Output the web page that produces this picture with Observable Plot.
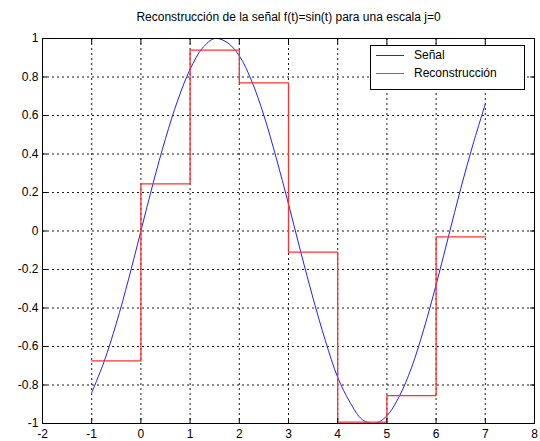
<!DOCTYPE html>
<html><head><meta charset="utf-8">
<script src="https://cdn.jsdelivr.net/npm/d3@7"></script>
<script src="https://cdn.jsdelivr.net/npm/@observablehq/plot@0.6"></script>
<style>
body{margin:0;background:#fff;font-family:"Liberation Sans",Arial,sans-serif;}
#wrap{position:relative;width:540px;height:441px;}
#legend{position:absolute;left:370px;top:45px;width:155px;height:45px;border:1px solid #000;background:#fff;font-size:12px;box-sizing:border-box;}
.li{position:absolute;left:5px;height:0;width:28px;}
.lt{position:absolute;left:43px;line-height:14px;}
</style>
</head><body>
<div id="wrap"></div>
<script>
const title = "Reconstrucción de la señal f(t)=sin(t) para una escala j=0";
const seriesNames = ["Señal", "Reconstrucción"];
const xTicks = [-2, -1, 0, 1, 2, 3, 4, 5, 6, 7, 8];
const yTicks = [-1, -0.8, -0.6, -0.4, -0.2, 0, 0.2, 0.4, 0.6, 0.8, 1];
// Signal samples
const signalT = [-1,-0.75,-0.5,-0.25,0,0.25,0.5,0.75,1,1.25,1.5,1.75,2,2.25,2.5,2.75,3,3.25,3.5,3.75,4,4.25,4.5,4.75,5,5.25,5.5,5.75,6,6.25,6.5,6.75,7];
const signalV = [-0.84,-0.68,-0.48,-0.25,0,0.25,0.48,0.68,0.84,0.95,1.0,0.98,0.91,0.78,0.6,0.38,0.14,-0.11,-0.35,-0.57,-0.76,-0.89,-0.98,-1.0,-0.96,-0.86,-0.71,-0.51,-0.28,-0.03,0.22,0.45,0.66];
// Reconstruction step values on [k, k+1]
const recT = [-1, 0, 1, 2, 3, 4, 5, 6, 7];
const recV = [-0.675, 0.245, 0.94, 0.77, -0.11, -0.993, -0.855, -0.03, -0.03];

const signal = signalT.map((t, i) => ({t, v: signalV[i]}));
const rec = recT.map((t, i) => ({t, v: recV[i]}));
const fmt = d => String(+d.toFixed(1));

const chart = Plot.plot({
  width: 540, height: 441,
  marginTop: 38, marginBottom: 18, marginLeft: 42, marginRight: 6,
  style: {fontFamily: '"Liberation Sans", Arial, sans-serif', fontSize: "12px", color: "#000", background: "#fff"},
  x: {domain: [-2, 8], label: null},
  y: {domain: [-1, 1], label: null},
  marks: [
    Plot.gridX(xTicks, {stroke: "#000", strokeOpacity: 0.9, strokeDasharray: "2,3"}),
    Plot.gridY(yTicks, {stroke: "#000", strokeOpacity: 0.9, strokeDasharray: "2,3"}),
    Plot.line(signal, {x: "t", y: "v", stroke: "#2020ff", strokeWidth: 1, curve: "catmull-rom"}),
    Plot.line(rec, {x: "t", y: "v", stroke: "#ff3030", strokeWidth: 1.3, curve: "step-after"}),
    Plot.axisX(xTicks, {tickSize: -5, tickPadding: 11, tickFormat: fmt, fontSize: 12, label: null}),
    Plot.axisX(xTicks, {anchor: "top", tickSize: -5, tickFormat: () => "", label: null}),
    Plot.axisY(yTicks, {tickSize: -5, tickPadding: 9, tickFormat: fmt, fontSize: 12, label: null}),
    Plot.axisY(yTicks, {anchor: "right", tickSize: -5, tickFormat: () => "", label: null}),
    Plot.frame({stroke: "#000"}),
    Plot.text([title], {frameAnchor: "top", dy: -26, fontSize: 12})
  ]
});
document.getElementById("wrap").appendChild(chart);

const lg = document.createElement("div");
lg.id = "legend";
lg.innerHTML = `<div class="li" style="top:9px;border-top:1px solid #2020ff"></div><div class="lt" style="top:2px">${seriesNames[0]}</div>
<div class="li" style="top:27px;border-top:1px solid #ff3030"></div><div class="lt" style="top:20px">${seriesNames[1]}</div>`;
document.getElementById("wrap").appendChild(lg);
</script>
</body></html>
